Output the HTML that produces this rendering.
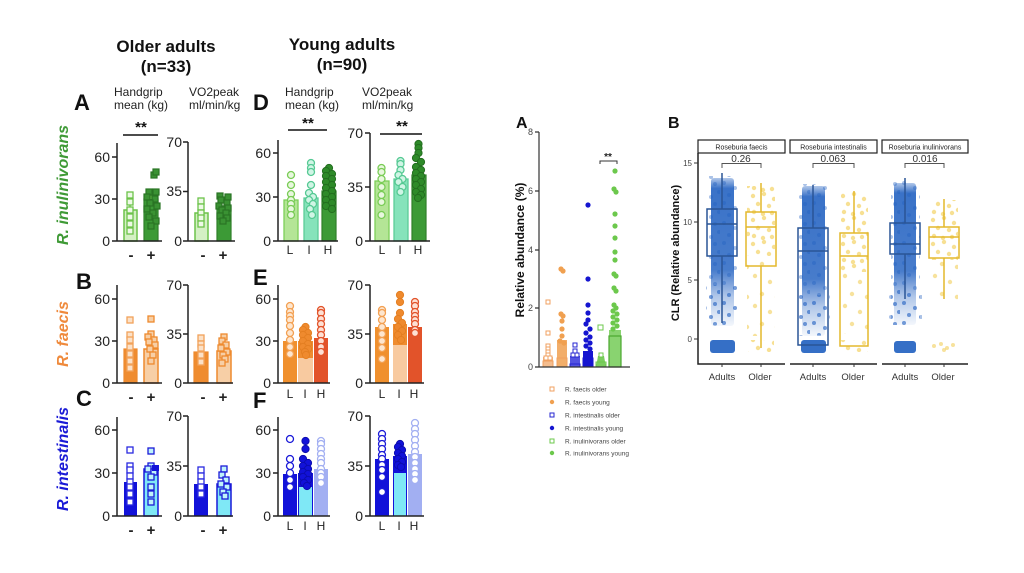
<!DOCTYPE html>
<html><head><meta charset="utf-8">
<style>
html,body{margin:0;padding:0;background:#fff;}
svg{display:block;}
text{font-family:"Liberation Sans",Arial,sans-serif;}
.tk{font-size:14px;fill:#222;text-anchor:end;}
.ax{stroke:#222;stroke-width:1.5;fill:none;}
.hd{font-size:12px;fill:#222;}
.big{font-size:22px;font-weight:bold;fill:#111;}
.xl{font-size:15px;font-weight:bold;fill:#222;text-anchor:middle;}
.xl2{font-size:12px;fill:#222;text-anchor:middle;}
.sqlg{fill:#eef9e7;stroke:#6cc24a;stroke-width:1.3;}
.sqdg{fill:#3a9233;stroke:#2a7424;stroke-width:1.2;}
.cl{fill:#e8f7de;stroke:#79cc55;stroke-width:1.3;}
.ci{fill:#d0f5e5;stroke:#55c993;stroke-width:1.3;}
.ch{fill:#2e8a29;stroke:#236e1f;stroke-width:1;}
.sqo1{fill:#fbe1c8;stroke:#f2a25a;stroke-width:1.3;}
.sqo2{fill:#f7cfa6;stroke:#ee8a2e;stroke-width:1.3;}
.co{fill:#fde6cf;stroke:#f3a052;stroke-width:1.3;}
.cof{fill:#ef8a2e;stroke:#e47f22;stroke-width:1;}
.cr{fill:#fde0d4;stroke:#e2532a;stroke-width:1.3;}
.sqb1{fill:#fff;stroke:#2a2ae0;stroke-width:1.3;}
.sqb2{fill:#bff3fa;stroke:#1a1ad8;stroke-width:1.3;}
.cb{fill:#fff;stroke:#1a1ad8;stroke-width:1.3;}
.cbf{fill:#1212d9;stroke:#0c0cb0;stroke-width:1;}
.cv{fill:#fff;stroke:#a2aff2;stroke-width:1.3;}
.mt{font-size:9px;fill:#444;text-anchor:end;}
.lg{font-size:6.5px;fill:#444;}
.rt{font-size:8px;fill:#444;text-anchor:end;}
.st{font-size:7px;fill:#222;text-anchor:middle;}
.pv{font-size:10px;fill:#333;text-anchor:middle;}
.bx{font-size:9.5px;fill:#333;text-anchor:middle;}
</style></head>
<body>
<svg width="1024" height="573" viewBox="0 0 1024 573" xmlns="http://www.w3.org/2000/svg">
<defs>
<linearGradient id="bc" x1="0" y1="0" x2="0" y2="1">
<stop offset="0" stop-color="#1f5fc0" stop-opacity="0.35"/>
<stop offset="0.07" stop-color="#1f5fc0" stop-opacity="0.88"/>
<stop offset="0.62" stop-color="#1f5fc0" stop-opacity="0.82"/>
<stop offset="0.8" stop-color="#1f5fc0" stop-opacity="0.35"/>
<stop offset="1" stop-color="#1f5fc0" stop-opacity="0.05"/>
</linearGradient>
<pattern id="yd" width="30" height="24" patternUnits="userSpaceOnUse">
<g fill="#f0c63a" fill-opacity="0.55">
<circle cx="3" cy="4" r="2.2"/><circle cx="14" cy="2" r="2.2"/><circle cx="24" cy="7" r="2.2"/><circle cx="8" cy="12" r="2.2"/><circle cx="19" cy="14" r="2.2"/><circle cx="28" cy="18" r="2.2"/><circle cx="4" cy="20" r="2.2"/><circle cx="13" cy="22" r="2.2"/><circle cx="22" cy="21" r="2.2"/></g>
</pattern>
<pattern id="ys" width="30" height="30" patternUnits="userSpaceOnUse">
<g fill="#f0c63a" fill-opacity="0.5">
<circle cx="5" cy="6" r="2.2"/><circle cx="20" cy="12" r="2.2"/><circle cx="12" cy="24" r="2.2"/><circle cx="27" cy="27" r="2.2"/></g>
</pattern>
<pattern id="bs" width="30" height="20" patternUnits="userSpaceOnUse">
<g fill="#2a66c4" fill-opacity="0.4">
<circle cx="4" cy="3" r="2"/><circle cx="15" cy="8" r="2"/><circle cx="25" cy="4" r="2"/><circle cx="9" cy="15" r="2"/><circle cx="21" cy="17" r="2"/><circle cx="29" cy="12" r="2"/></g>
</pattern>
</defs>

<!-- ================= LEFT FIGURE ================= -->
<text x="166" y="52" font-size="17" font-weight="bold" text-anchor="middle" fill="#111">Older adults</text>
<text x="166" y="72" font-size="17" font-weight="bold" text-anchor="middle" fill="#111">(n=33)</text>
<text x="342" y="50" font-size="17" font-weight="bold" text-anchor="middle" fill="#111">Young adults</text>
<text x="342" y="70" font-size="17" font-weight="bold" text-anchor="middle" fill="#111">(n=90)</text>

<text class="big" x="74" y="110">A</text>
<text class="big" x="253" y="110">D</text>
<text class="big" x="76" y="289">B</text>
<text class="big" x="253" y="285">E</text>
<text class="big" x="76" y="406">C</text>
<text class="big" x="253" y="408">F</text>

<text class="hd" x="114" y="96">Handgrip</text><text class="hd" x="114" y="109">mean (kg)</text>
<text class="hd" x="189" y="96">VO2peak</text><text class="hd" x="189" y="109">ml/min/kg</text>
<text class="hd" x="285" y="96">Handgrip</text><text class="hd" x="285" y="109">mean (kg)</text>
<text class="hd" x="362" y="96">VO2peak</text><text class="hd" x="362" y="109">ml/min/kg</text>

<text transform="translate(68,185) rotate(-90)" text-anchor="middle" font-size="16" font-weight="bold" font-style="italic" fill="#3f9a36">R. inulinivorans</text>
<text transform="translate(68,334) rotate(-90)" text-anchor="middle" font-size="16" font-weight="bold" font-style="italic" fill="#ef8a3c">R. faecis</text>
<text transform="translate(68,459) rotate(-90)" text-anchor="middle" font-size="16" font-weight="bold" font-style="italic" fill="#1a1ad6">R. intestinalis</text>

<!-- significance -->
<text x="141" y="132" font-size="15" font-weight="bold" text-anchor="middle" fill="#111">**</text>
<line x1="123" y1="135" x2="158" y2="135" stroke="#111" stroke-width="1.5"/>
<text x="308" y="128" font-size="15" font-weight="bold" text-anchor="middle" fill="#111">**</text>
<line x1="288" y1="130" x2="327" y2="130" stroke="#111" stroke-width="1.5"/>
<text x="402" y="131" font-size="15" font-weight="bold" text-anchor="middle" fill="#111">**</text>
<line x1="380" y1="134" x2="422" y2="134" stroke="#111" stroke-width="1.5"/>

<!-- ===== Row A HG ===== -->
<rect x="124" y="210" width="13" height="31" fill="#d4f0c4" stroke="#6cc24a" stroke-width="1.5"/>
<rect x="144" y="199" width="14" height="42" fill="#3c9a36" stroke="#2f7f2a" stroke-width="1.2"/>
<path d="M130 210V204M127 204H133M151 199V194M148 194H154" stroke="#6cc24a" stroke-width="1.3"/>
<g class="sqlg"><rect x="127" y="192" width="6" height="6"/><rect x="127" y="199" width="6" height="6"/><rect x="127" y="207" width="6" height="6"/><rect x="127" y="214" width="6" height="6"/><rect x="127" y="221" width="6" height="6"/><rect x="127" y="228" width="6" height="6"/></g>
<g class="sqdg"><rect x="151" y="172" width="6" height="6"/><rect x="153" y="169" width="6" height="6"/><rect x="146" y="189" width="6" height="6"/><rect x="153" y="189" width="6" height="6"/><rect x="144" y="194" width="6" height="6"/><rect x="152" y="196" width="6" height="6"/><rect x="147" y="200" width="6" height="6"/><rect x="154" y="203" width="6" height="6"/><rect x="144" y="206" width="6" height="6"/><rect x="150" y="210" width="6" height="6"/><rect x="146" y="214" width="6" height="6"/><rect x="153" y="218" width="6" height="6"/><rect x="148" y="223" width="6" height="6"/></g>
<path class="ax" d="M117 143V241H162M112 241H117M112 199H117M112 157H117"/>
<text class="tk" x="110" y="246">0</text><text class="tk" x="110" y="204">30</text><text class="tk" x="110" y="162">60</text>
<text class="xl" x="131" y="260">-</text><text class="xl" x="151" y="260">+</text>

<!-- ===== Row A VO2 ===== -->
<rect x="195" y="213" width="13" height="28" fill="#d4f0c4" stroke="#6cc24a" stroke-width="1.5"/>
<rect x="217" y="206" width="14" height="35" fill="#3c9a36" stroke="#2f7f2a" stroke-width="1.2"/>
<g class="sqlg"><rect x="198" y="198" width="6" height="6"/><rect x="198" y="204" width="6" height="6"/><rect x="198" y="210" width="6" height="6"/><rect x="198" y="215" width="6" height="6"/><rect x="198" y="221" width="6" height="6"/></g>
<g class="sqdg"><rect x="217" y="193" width="6" height="6"/><rect x="225" y="194" width="6" height="6"/><rect x="218" y="197" width="6" height="6"/><rect x="224" y="200" width="6" height="6"/><rect x="216" y="203" width="6" height="6"/><rect x="225" y="205" width="6" height="6"/><rect x="219" y="207" width="6" height="6"/><rect x="223" y="210" width="6" height="6"/><rect x="217" y="213" width="6" height="6"/><rect x="224" y="215" width="6" height="6"/><rect x="220" y="218" width="6" height="6"/></g>
<path class="ax" d="M188 142V241H235M183 241H188M183 191.5H188M183 142H188"/>
<text class="tk" x="182" y="246">0</text><text class="tk" x="182" y="196">35</text><text class="tk" x="182" y="147">70</text>
<text class="xl" x="203" y="260">-</text><text class="xl" x="223" y="260">+</text>

<!-- ===== Row D HG ===== -->
<rect x="284" y="200" width="14" height="41" fill="#b4e596" stroke="#7ccf58" stroke-width="1.3"/>
<rect x="304" y="198" width="14" height="43" fill="#86e3bb" stroke="#5ccc98" stroke-width="1.3"/>
<rect x="322" y="191" width="14" height="50" fill="#3c9a36" stroke="#2f7f2a" stroke-width="1.2"/>
<g class="cl"><circle cx="291" cy="175" r="3.5"/><circle cx="291" cy="185" r="3.5"/><circle cx="291" cy="194" r="3.5"/><circle cx="291" cy="200" r="3.5"/><circle cx="291" cy="204" r="3.5"/><circle cx="291" cy="209" r="3.5"/><circle cx="291" cy="215" r="3.5"/></g>
<g class="ci"><circle cx="311" cy="163" r="3.5"/><circle cx="311" cy="168" r="3.5"/><circle cx="311" cy="172" r="3.5"/><circle cx="311" cy="185" r="3.5"/><circle cx="309" cy="193" r="3.5"/><circle cx="313" cy="197" r="3.5"/><circle cx="309" cy="200" r="3.5"/><circle cx="313" cy="204" r="3.5"/><circle cx="310" cy="209" r="3.5"/><circle cx="312" cy="215" r="3.5"/></g>
<g class="ch"><circle cx="329" cy="168" r="3.6"/><circle cx="326" cy="171" r="3.6"/><circle cx="332" cy="174" r="3.6"/><circle cx="326" cy="176" r="3.6"/><circle cx="332" cy="179" r="3.6"/><circle cx="326" cy="182" r="3.6"/><circle cx="332" cy="185" r="3.6"/><circle cx="326" cy="188" r="3.6"/><circle cx="332" cy="191" r="3.6"/><circle cx="326" cy="194" r="3.6"/><circle cx="332" cy="197" r="3.6"/><circle cx="326" cy="200" r="3.6"/><circle cx="332" cy="203" r="3.6"/><circle cx="326" cy="206" r="3.6"/><circle cx="332" cy="209" r="3.6"/></g>
<path class="ax" d="M278 140V241H338M273 241H278M273 197H278M273 153H278"/>
<text class="tk" x="271" y="246">0</text><text class="tk" x="271" y="202">30</text><text class="tk" x="271" y="158">60</text>
<text class="xl2" x="290" y="254">L</text><text class="xl2" x="309" y="254">I</text><text class="xl2" x="328" y="254">H</text>

<!-- ===== Row D VO2 ===== -->
<rect x="375" y="181" width="14" height="60" fill="#b4e596" stroke="#7ccf58" stroke-width="1.3"/>
<rect x="394" y="179" width="14" height="62" fill="#86e3bb" stroke="#5ccc98" stroke-width="1.3"/>
<rect x="412" y="175" width="14" height="66" fill="#3c9a36" stroke="#2f7f2a" stroke-width="1.2"/>
<g class="cl"><circle cx="381.5" cy="168" r="3.5"/><circle cx="381.5" cy="172" r="3.5"/><circle cx="381.5" cy="179" r="3.5"/><circle cx="381.5" cy="187" r="3.5"/><circle cx="381.5" cy="195" r="3.5"/><circle cx="381.5" cy="202" r="3.5"/><circle cx="381.5" cy="215" r="3.5"/></g>
<g class="ci"><circle cx="400.5" cy="161" r="3.5"/><circle cx="400.5" cy="164" r="3.5"/><circle cx="400.5" cy="170" r="3.5"/><circle cx="398.5" cy="175" r="3.5"/><circle cx="402.5" cy="179" r="3.5"/><circle cx="398.5" cy="182" r="3.5"/><circle cx="402.5" cy="187" r="3.5"/><circle cx="400.5" cy="192" r="3.5"/></g>
<g class="ch"><circle cx="418.5" cy="144" r="3.6"/><circle cx="418.5" cy="148" r="3.6"/><circle cx="418.5" cy="153" r="3.6"/><circle cx="416" cy="158" r="3.6"/><circle cx="421" cy="162" r="3.6"/><circle cx="416" cy="167" r="3.6"/><circle cx="421" cy="170" r="3.6"/><circle cx="416" cy="173" r="3.6"/><circle cx="421" cy="176" r="3.6"/><circle cx="416" cy="179" r="3.6"/><circle cx="421" cy="182" r="3.6"/><circle cx="416" cy="185" r="3.6"/><circle cx="421" cy="189" r="3.6"/><circle cx="416" cy="192" r="3.6"/><circle cx="421" cy="195" r="3.6"/><circle cx="418" cy="198" r="3.6"/></g>
<path class="ax" d="M370 133V241H430M365 241H370M365 187H370M365 133H370"/>
<text class="tk" x="363" y="246">0</text><text class="tk" x="363" y="192">35</text><text class="tk" x="363" y="138">70</text>
<text class="xl2" x="382" y="254">L</text><text class="xl2" x="400" y="254">I</text><text class="xl2" x="418" y="254">H</text>

<!-- ===== Row B HG ===== -->
<rect x="124" y="349" width="13" height="34" fill="#ef8c30" stroke="#ee8a2e" stroke-width="1.2"/>
<rect x="144" y="349" width="14" height="34" fill="#f7cfa6" stroke="#ee8a2e" stroke-width="1.5"/>
<g class="sqo1"><rect x="127" y="317" width="6" height="6"/><rect x="127" y="332" width="6" height="6"/><rect x="127" y="337" width="6" height="6"/><rect x="127" y="344" width="6" height="6"/><rect x="127" y="351" width="6" height="6"/><rect x="127" y="358" width="6" height="6"/><rect x="127" y="365" width="6" height="6"/></g>
<g class="sqo2"><rect x="148" y="316" width="6" height="6"/><rect x="148" y="331" width="6" height="6"/><rect x="145" y="334" width="6" height="6"/><rect x="151" y="337" width="6" height="6"/><rect x="146" y="339" width="6" height="6"/><rect x="152" y="342" width="6" height="6"/><rect x="147" y="346" width="6" height="6"/><rect x="150" y="352" width="6" height="6"/><rect x="148" y="358" width="6" height="6"/></g>
<path class="ax" d="M117 285V383H162M112 383H117M112 341H117M112 299H117"/>
<text class="tk" x="110" y="388">0</text><text class="tk" x="110" y="346">30</text><text class="tk" x="110" y="304">60</text>
<text class="xl" x="131" y="402">-</text><text class="xl" x="151" y="402">+</text>

<!-- ===== Row B VO2 ===== -->
<rect x="194" y="352" width="14" height="31" fill="#ef8c30" stroke="#ee8a2e" stroke-width="1.2"/>
<rect x="217" y="351" width="14" height="32" fill="#f7cfa6" stroke="#ee8a2e" stroke-width="1.5"/>
<g class="sqo1"><rect x="198" y="335" width="6" height="6"/><rect x="198" y="341" width="6" height="6"/><rect x="198" y="345" width="6" height="6"/><rect x="198" y="352" width="6" height="6"/><rect x="198" y="359" width="6" height="6"/></g>
<g class="sqo2"><rect x="221" y="334" width="6" height="6"/><rect x="219" y="338" width="6" height="6"/><rect x="223" y="342" width="6" height="6"/><rect x="218" y="345" width="6" height="6"/><rect x="224" y="349" width="6" height="6"/><rect x="220" y="352" width="6" height="6"/><rect x="222" y="356" width="6" height="6"/><rect x="219" y="360" width="6" height="6"/></g>
<path class="ax" d="M188 285V383H233M183 383H188M183 334H188M183 285H188"/>
<text class="tk" x="182" y="388">0</text><text class="tk" x="182" y="339">35</text><text class="tk" x="182" y="290">70</text>
<text class="xl" x="203" y="402">-</text><text class="xl" x="223" y="402">+</text>

<!-- ===== Row E HG ===== -->
<rect x="283" y="341" width="14" height="42" fill="#f0902e"/>
<rect x="298" y="341" width="15" height="42" fill="#ef8c30"/>
<rect x="298" y="358" width="15" height="25" fill="#f8caa0"/>
<rect x="314" y="338" width="14" height="45" fill="#e2532a"/>
<g class="co"><circle cx="290" cy="306" r="3.5"/><circle cx="290" cy="312" r="3.5"/><circle cx="290" cy="316" r="3.5"/><circle cx="290" cy="320" r="3.5"/><circle cx="290" cy="326" r="3.5"/><circle cx="290" cy="333" r="3.5"/><circle cx="290" cy="340" r="3.5"/><circle cx="290" cy="347" r="3.5"/><circle cx="290" cy="354" r="3.5"/></g>
<g class="cof"><circle cx="305.5" cy="327" r="3.6"/><circle cx="303" cy="330" r="3.6"/><circle cx="308" cy="333" r="3.6"/><circle cx="303" cy="335" r="3.6"/><circle cx="308" cy="338" r="3.6"/><circle cx="303" cy="341" r="3.6"/><circle cx="308" cy="344" r="3.6"/><circle cx="303" cy="347" r="3.6"/><circle cx="308" cy="349" r="3.6"/><circle cx="305" cy="352" r="3.6"/><circle cx="306" cy="355" r="3.6"/></g>
<g class="cr"><circle cx="321" cy="310" r="3.5"/><circle cx="321" cy="313" r="3.5"/><circle cx="321" cy="319" r="3.5"/><circle cx="321" cy="324" r="3.5"/><circle cx="321" cy="330" r="3.5"/><circle cx="321" cy="335" r="3.5"/><circle cx="321" cy="341" r="3.5"/><circle cx="321" cy="347" r="3.5"/><circle cx="321" cy="352" r="3.5"/></g>
<path class="ax" d="M278 285V383H330M273 383H278M273 341H278M273 299H278"/>
<text class="tk" x="271" y="388">0</text><text class="tk" x="271" y="346">30</text><text class="tk" x="271" y="304">60</text>
<text class="xl2" x="290" y="398">L</text><text class="xl2" x="305" y="398">I</text><text class="xl2" x="321" y="398">H</text>

<!-- ===== Row E VO2 ===== -->
<rect x="375" y="327" width="14" height="56" fill="#f0902e"/>
<rect x="393" y="324" width="14" height="59" fill="#ef8c30"/>
<rect x="393" y="345" width="14" height="38" fill="#f8caa0"/>
<rect x="408" y="327" width="14" height="56" fill="#e2532a"/>
<g class="co"><circle cx="382" cy="310" r="3.5"/><circle cx="382" cy="313" r="3.5"/><circle cx="382" cy="320" r="3.5"/><circle cx="382" cy="327" r="3.5"/><circle cx="382" cy="334" r="3.5"/><circle cx="382" cy="341" r="3.5"/><circle cx="382" cy="348" r="3.5"/><circle cx="382" cy="359" r="3.5"/></g>
<g class="cof"><circle cx="400" cy="295" r="3.6"/><circle cx="400" cy="302" r="3.6"/><circle cx="400" cy="313" r="3.6"/><circle cx="398" cy="319" r="3.6"/><circle cx="402" cy="323" r="3.6"/><circle cx="398" cy="327" r="3.6"/><circle cx="402" cy="331" r="3.6"/><circle cx="398" cy="335" r="3.6"/><circle cx="401" cy="340" r="3.6"/></g>
<g class="cr"><circle cx="415" cy="302" r="3.5"/><circle cx="415" cy="306" r="3.5"/><circle cx="415" cy="312" r="3.5"/><circle cx="415" cy="316" r="3.5"/><circle cx="415" cy="320" r="3.5"/><circle cx="415" cy="324" r="3.5"/><circle cx="415" cy="330" r="3.5"/><circle cx="415" cy="333" r="3.5"/></g>
<path class="ax" d="M370 285V383H424M365 383H370M365 334H370M365 285H370"/>
<text class="tk" x="363" y="388">0</text><text class="tk" x="363" y="339">35</text><text class="tk" x="363" y="290">70</text>
<text class="xl2" x="382" y="398">L</text><text class="xl2" x="399" y="398">I</text><text class="xl2" x="414" y="398">H</text>

<!-- ===== Row C HG ===== -->
<rect x="124" y="482" width="13" height="34" fill="#1212d9"/>
<rect x="144" y="469" width="14" height="47" fill="#7fe8f6" stroke="#1a1ad8" stroke-width="1.5"/>
<g class="sqb1"><rect x="127" y="447" width="6" height="6"/><rect x="127" y="463" width="6" height="6"/><rect x="127" y="467" width="6" height="6"/><rect x="127" y="473" width="6" height="6"/><rect x="127" y="479" width="6" height="6"/><rect x="127" y="484" width="6" height="6"/><rect x="127" y="491" width="6" height="6"/><rect x="127" y="499" width="6" height="6"/></g>
<g class="sqb2"><rect x="148" y="448" width="6" height="6"/><rect x="148" y="463" width="6" height="6"/><rect x="145" y="466" width="6" height="6"/><rect x="151" y="469" width="6" height="6"/><rect x="148" y="474" width="6" height="6"/><rect x="148" y="484" width="6" height="6"/><rect x="148" y="491" width="6" height="6"/><rect x="148" y="499" width="6" height="6"/></g>
<rect x="152" y="465" width="7" height="6" fill="#1212d9"/>
<path class="ax" d="M117 417V516H162M112 516H117M112 473H117M112 430H117"/>
<text class="tk" x="110" y="521">0</text><text class="tk" x="110" y="478">30</text><text class="tk" x="110" y="435">60</text>
<text class="xl" x="131" y="535">-</text><text class="xl" x="151" y="535">+</text>

<!-- ===== Row C VO2 ===== -->
<rect x="194" y="484" width="14" height="32" fill="#1212d9"/>
<rect x="217" y="484" width="14" height="32" fill="#7fe8f6" stroke="#1a1ad8" stroke-width="1.5"/>
<g class="sqb1"><rect x="198" y="467" width="6" height="6"/><rect x="198" y="473" width="6" height="6"/><rect x="198" y="479" width="6" height="6"/><rect x="198" y="484" width="6" height="6"/><rect x="198" y="491" width="6" height="6"/></g>
<g class="sqb2"><rect x="221" y="466" width="6" height="6"/><rect x="219" y="472" width="6" height="6"/><rect x="223" y="477" width="6" height="6"/><rect x="218" y="481" width="6" height="6"/><rect x="224" y="484" width="6" height="6"/><rect x="220" y="489" width="6" height="6"/><rect x="222" y="493" width="6" height="6"/></g>
<path class="ax" d="M188 416V516H233M183 516H188M183 466H188M183 416H188"/>
<text class="tk" x="182" y="521">0</text><text class="tk" x="182" y="471">35</text><text class="tk" x="182" y="421">70</text>
<text class="xl" x="203" y="535">-</text><text class="xl" x="223" y="535">+</text>

<!-- ===== Row F HG ===== -->
<rect x="283" y="474" width="14" height="42" fill="#1212d9"/>
<rect x="298" y="473" width="15" height="43" fill="#1212d9"/>
<rect x="299" y="487" width="13" height="29" fill="#7fe8f6"/>
<rect x="314" y="469" width="14" height="47" fill="#a2aff2"/>
<g class="cb"><circle cx="290" cy="439" r="3.5"/><circle cx="290" cy="459" r="3.5"/><circle cx="290" cy="466" r="3.5"/><circle cx="290" cy="473" r="3.5"/><circle cx="290" cy="480" r="3.5"/><circle cx="290" cy="487" r="3.5"/></g>
<g class="cbf"><circle cx="305.5" cy="441" r="3.6"/><circle cx="305.5" cy="449" r="3.6"/><circle cx="303" cy="459" r="3.6"/><circle cx="308" cy="463" r="3.6"/><circle cx="303" cy="466" r="3.6"/><circle cx="308" cy="469" r="3.6"/><circle cx="303" cy="472" r="3.6"/><circle cx="308" cy="474" r="3.6"/><circle cx="303" cy="477" r="3.6"/><circle cx="308" cy="480" r="3.6"/><circle cx="304" cy="483" r="3.6"/><circle cx="307" cy="486" r="3.6"/></g>
<g class="cv"><circle cx="321" cy="441" r="3.5"/><circle cx="321" cy="444" r="3.5"/><circle cx="321" cy="449" r="3.5"/><circle cx="321" cy="454" r="3.5"/><circle cx="321" cy="459" r="3.5"/><circle cx="321" cy="463" r="3.5"/><circle cx="321" cy="469" r="3.5"/><circle cx="321" cy="473" r="3.5"/><circle cx="321" cy="477" r="3.5"/><circle cx="321" cy="483" r="3.5"/></g>
<path class="ax" d="M278 417V516H330M273 516H278M273 473H278M273 430H278"/>
<text class="tk" x="271" y="521">0</text><text class="tk" x="271" y="478">30</text><text class="tk" x="271" y="435">60</text>
<text class="xl2" x="290" y="530">L</text><text class="xl2" x="305" y="530">I</text><text class="xl2" x="321" y="530">H</text>

<!-- ===== Row F VO2 ===== -->
<rect x="375" y="459" width="14" height="57" fill="#1212d9"/>
<rect x="393" y="456" width="14" height="60" fill="#1212d9"/>
<rect x="394" y="473" width="12" height="43" fill="#7fe8f6"/>
<rect x="408" y="454" width="14" height="62" fill="#a2aff2"/>
<g class="cb"><circle cx="382" cy="434" r="3.5"/><circle cx="382" cy="439" r="3.5"/><circle cx="382" cy="444" r="3.5"/><circle cx="382" cy="449" r="3.5"/><circle cx="382" cy="455" r="3.5"/><circle cx="382" cy="459" r="3.5"/><circle cx="382" cy="465" r="3.5"/><circle cx="382" cy="470" r="3.5"/><circle cx="382" cy="477" r="3.5"/><circle cx="382" cy="492" r="3.5"/></g>
<g class="cbf"><circle cx="400" cy="444" r="3.6"/><circle cx="398" cy="447" r="3.6"/><circle cx="402" cy="450" r="3.6"/><circle cx="398" cy="453" r="3.6"/><circle cx="402" cy="456" r="3.6"/><circle cx="398" cy="459" r="3.6"/><circle cx="402" cy="462" r="3.6"/><circle cx="398" cy="465" r="3.6"/><circle cx="401" cy="467" r="3.6"/></g>
<g class="cv"><circle cx="415" cy="423" r="3.5"/><circle cx="415" cy="429" r="3.5"/><circle cx="415" cy="434" r="3.5"/><circle cx="415" cy="440" r="3.5"/><circle cx="415" cy="446" r="3.5"/><circle cx="415" cy="452" r="3.5"/><circle cx="415" cy="457" r="3.5"/><circle cx="415" cy="463" r="3.5"/><circle cx="415" cy="469" r="3.5"/><circle cx="415" cy="474" r="3.5"/><circle cx="415" cy="480" r="3.5"/></g>
<path class="ax" d="M370 416V516H424M365 516H370M365 466H370M365 416H370"/>
<text class="tk" x="363" y="521">0</text><text class="tk" x="363" y="471">35</text><text class="tk" x="363" y="421">70</text>
<text class="xl2" x="382" y="530">L</text><text class="xl2" x="399" y="530">I</text><text class="xl2" x="414" y="530">H</text>

<!-- ================= MIDDLE PANEL A ================= -->
<text x="516" y="128" font-size="16" font-weight="bold" fill="#111">A</text>
<text transform="translate(524,250) rotate(-90)" text-anchor="middle" font-size="12" font-weight="bold" fill="#111">Relative abundance (%)</text>
<!-- dense bases -->
<rect x="543" y="357" width="10" height="10" fill="#f3b27a" fill-opacity="0.85"/>
<rect x="557" y="340" width="10" height="27" fill="#f0a050" fill-opacity="0.85"/>
<rect x="570" y="356" width="10" height="11" fill="#3535dc" fill-opacity="0.85"/>
<rect x="583" y="351" width="10" height="16" fill="#1515d0"/>
<path d="M596 367L598 356H604L606 367Z" fill="#6cc84c" fill-opacity="0.9"/>
<rect x="609" y="330" width="12" height="37" fill="#6cc84c" fill-opacity="0.8"/>
<!-- bars -->
<rect x="543" y="361" width="10" height="6" fill="none" stroke="#f0a060" stroke-width="1"/>
<rect x="557" y="358" width="10" height="9" fill="none" stroke="#f0a060" stroke-width="1"/>
<rect x="570" y="364" width="10" height="3" fill="none" stroke="#2525d0" stroke-width="1"/>
<rect x="583" y="358" width="10" height="9" fill="none" stroke="#1515d0" stroke-width="1"/>
<rect x="596" y="362" width="10" height="5" fill="none" stroke="#6cc84c" stroke-width="1"/>
<rect x="609" y="336" width="12" height="31" fill="none" stroke="#4aa82e" stroke-width="1.2"/>
<!-- faecis older squares -->
<g fill="#fff" stroke="#f0a060" stroke-width="1"><rect x="546" y="300" width="4" height="4"/><rect x="546" y="331" width="4" height="4"/><rect x="546" y="344" width="4" height="4"/><rect x="546" y="347" width="4" height="4"/><rect x="546" y="350" width="4" height="4"/><rect x="546" y="353" width="4" height="4"/><rect x="544" y="356" width="4" height="4"/><rect x="548" y="356" width="4" height="4"/></g>
<!-- faecis young -->
<g fill="#f0a050"><circle cx="561" cy="269" r="2.6"/><circle cx="563" cy="271" r="2.6"/><circle cx="561" cy="314" r="2.6"/><circle cx="563" cy="316" r="2.6"/><circle cx="562" cy="321" r="2.6"/><circle cx="562" cy="329" r="2.6"/><circle cx="562" cy="336" r="2.6"/><circle cx="560" cy="341" r="2.6"/><circle cx="564" cy="343" r="2.6"/></g>
<!-- intestinalis older -->
<g fill="#fff" stroke="#2525d0" stroke-width="1"><rect x="573" y="343" width="4" height="4"/><rect x="573" y="349" width="4" height="4"/><rect x="571" y="353" width="4" height="4"/><rect x="575" y="353" width="4" height="4"/></g>
<!-- intestinalis young -->
<g fill="#1515d0"><circle cx="588" cy="205" r="2.6"/><circle cx="588" cy="279" r="2.6"/><circle cx="588" cy="305" r="2.6"/><circle cx="588" cy="313" r="2.6"/><circle cx="588" cy="320" r="2.6"/><circle cx="586" cy="324" r="2.6"/><circle cx="590" cy="329" r="2.6"/><circle cx="586" cy="333" r="2.6"/><circle cx="590" cy="337" r="2.6"/><circle cx="586" cy="340" r="2.6"/><circle cx="590" cy="343" r="2.6"/><circle cx="586" cy="346" r="2.6"/><circle cx="590" cy="349" r="2.6"/></g>
<!-- inulinivorans older -->
<g fill="#fff" stroke="#6cc84c" stroke-width="1"><rect x="598" y="325" width="5" height="5"/><rect x="599" y="353" width="4" height="4"/></g>
<!-- inulinivorans young -->
<g fill="#6cc84c"><circle cx="615" cy="171" r="2.6"/><circle cx="614" cy="189" r="2.6"/><circle cx="616" cy="192" r="2.6"/><circle cx="615" cy="214" r="2.6"/><circle cx="615" cy="226" r="2.6"/><circle cx="615" cy="238" r="2.6"/><circle cx="615" cy="252" r="2.6"/><circle cx="615" cy="260" r="2.6"/><circle cx="614" cy="274" r="2.6"/><circle cx="616" cy="276" r="2.6"/><circle cx="614" cy="288" r="2.6"/><circle cx="616" cy="291" r="2.6"/><circle cx="614" cy="305" r="2.6"/><circle cx="616" cy="308" r="2.6"/><circle cx="613" cy="311" r="2.6"/><circle cx="617" cy="314" r="2.6"/><circle cx="613" cy="317" r="2.6"/><circle cx="617" cy="320" r="2.6"/><circle cx="613" cy="323" r="2.6"/><circle cx="617" cy="326" r="2.6"/><circle cx="613" cy="329" r="2.6"/></g>
<text x="608" y="160" font-size="10" font-weight="bold" text-anchor="middle" fill="#222">**</text>
<path d="M600 164V161H617V164" stroke="#333" stroke-width="1" fill="none"/>
<path d="M539 132V367H630M535 132H539M535 191H539M535 250H539M535 308H539M535 367H539" stroke="#333" stroke-width="1.2" fill="none"/>
<text class="mt" x="533" y="135">8</text><text class="mt" x="533" y="194">6</text><text class="mt" x="533" y="253">4</text><text class="mt" x="533" y="311">2</text><text class="mt" x="533" y="370">0</text>
<!-- legend -->
<rect x="550" y="387" width="4" height="4" fill="#fff" stroke="#f0a060" stroke-width="1"/>
<circle cx="552" cy="402" r="2.2" fill="#f0a050"/>
<rect x="550" y="413" width="4" height="4" fill="#fff" stroke="#2525d0" stroke-width="1"/>
<circle cx="552" cy="428" r="2.2" fill="#1515d0"/>
<rect x="550" y="439" width="4" height="4" fill="#fff" stroke="#6cc84c" stroke-width="1"/>
<circle cx="552" cy="453" r="2.2" fill="#6cc84c"/>
<text class="lg" x="565" y="391.5">R. faecis older</text>
<text class="lg" x="565" y="404.5">R. faecis young</text>
<text class="lg" x="565" y="417.5">R. intestinalis older</text>
<text class="lg" x="565" y="430.5">R. intestinalis young</text>
<text class="lg" x="565" y="443.5">R. inulinivorans older</text>
<text class="lg" x="565" y="455.5">R. inulinivorans young</text>

<!-- ================= RIGHT PANEL B ================= -->
<text x="668" y="128" font-size="16" font-weight="bold" fill="#111">B</text>
<text transform="translate(679,253) rotate(-90)" text-anchor="middle" font-size="11" font-weight="bold" fill="#111">CLR (Relative abundance)</text>
<!-- strips -->
<rect x="698" y="140" width="87" height="13" fill="#fff" stroke="#222" stroke-width="1.2"/>
<rect x="790" y="140" width="87" height="13" fill="#fff" stroke="#222" stroke-width="1.2"/>
<rect x="882" y="140" width="86" height="13" fill="#fff" stroke="#222" stroke-width="1.2"/>
<text class="st" x="741.5" y="149.5">Roseburia faecis</text>
<text class="st" x="833.5" y="149.5">Roseburia intestinalis</text>
<text class="st" x="925" y="149.5">Roseburia inulinivorans</text>

<!-- Panel 1 clouds -->
<rect x="708" y="176" width="29" height="150" fill="url(#bs)"/>
<rect x="711" y="178" width="23" height="148" rx="3" fill="url(#bc)"/>
<rect x="706" y="285" width="33" height="40" fill="url(#bs)"/>
<rect x="710" y="340" width="25" height="13" rx="3" fill="#1f5fc0" fill-opacity="0.9"/>
<rect x="747" y="186" width="28" height="70" fill="url(#yd)"/>
<rect x="747" y="256" width="28" height="80" fill="url(#ys)"/>
<rect x="748" y="340" width="26" height="12" fill="url(#yd)"/>
<!-- Panel 2 clouds -->
<rect x="799" y="184" width="29" height="152" fill="url(#bs)"/>
<rect x="802" y="186" width="23" height="150" rx="3" fill="url(#bc)"/>
<rect x="797" y="295" width="33" height="40" fill="url(#bs)"/>
<rect x="801" y="340" width="25" height="13" rx="3" fill="#1f5fc0" fill-opacity="0.9"/>
<rect x="841" y="192" width="27" height="80" fill="url(#yd)"/>
<rect x="841" y="272" width="27" height="62" fill="url(#ys)"/>
<rect x="841" y="340" width="27" height="12" fill="url(#yd)"/>
<!-- Panel 3 clouds -->
<rect x="891" y="180" width="29" height="145" fill="url(#bs)"/>
<rect x="894" y="183" width="22" height="142" rx="3" fill="url(#bc)"/>
<rect x="889" y="290" width="33" height="35" fill="url(#bs)"/>
<rect x="894" y="341" width="22" height="12" rx="3" fill="#1f5fc0" fill-opacity="0.9"/>
<rect x="930" y="200" width="28" height="60" fill="url(#yd)"/>
<rect x="930" y="260" width="28" height="40" fill="url(#ys)"/>
<g fill="#f0c63a" fill-opacity="0.5"><circle cx="934" cy="346" r="2"/><circle cx="941" cy="344" r="2"/><circle cx="947" cy="348" r="2"/><circle cx="953" cy="345" r="2"/><circle cx="944" cy="350" r="2"/></g>

<!-- boxes -->
<g fill="none" stroke="#2a5596" stroke-width="1.5">
<path d="M722 173V209M722 256V323"/><rect x="707" y="209" width="30" height="47"/><path d="M707 224H737"/>
<path d="M813 185V228"/><rect x="798" y="228" width="30" height="117"/><path d="M798 251H828"/>
<path d="M905 178V223M905 254V299"/><rect x="890" y="223" width="30" height="31"/><path d="M890 244H920"/>
</g>
<g fill="none" stroke="#e4b82c" stroke-width="1.5">
<path d="M761 183V212M761 266V348"/><rect x="746" y="212" width="30" height="54"/><path d="M746 227H776"/>
<path d="M854 191V233"/><rect x="840" y="233" width="28" height="113"/><path d="M840 256H868"/>
<path d="M944 199V227M944 258V299"/><rect x="929" y="227" width="30" height="31"/><path d="M929 237H959"/>
</g>

<!-- p-values -->
<text class="pv" x="741" y="162">0.26</text>
<path d="M722 168V163.5H761V168" stroke="#555" stroke-width="1" fill="none"/>
<text class="pv" x="833" y="162">0.063</text>
<path d="M813 168V163.5H854V168" stroke="#555" stroke-width="1" fill="none"/>
<text class="pv" x="925" y="162">0.016</text>
<path d="M905 168V163.5H944V168" stroke="#555" stroke-width="1" fill="none"/>

<!-- axes -->
<path d="M698 153V364H785M790 364H877M882 364H968" stroke="#222" stroke-width="1.5" fill="none"/>
<path d="M694 163H698M694 222H698M694 280H698M694 339H698M722 364V367M761 364V367M813 364V367M854 364V367M905 364V367M944 364V367" stroke="#333" stroke-width="1" fill="none"/>
<text class="rt" x="692" y="166">15</text><text class="rt" x="692" y="225">10</text><text class="rt" x="692" y="283">5</text><text class="rt" x="692" y="342">0</text>
<text class="bx" x="722" y="380">Adults</text><text class="bx" x="760" y="380">Older</text>
<text class="bx" x="813" y="380">Adults</text><text class="bx" x="853" y="380">Older</text>
<text class="bx" x="905" y="380">Adults</text><text class="bx" x="943" y="380">Older</text>
</svg>
</body></html>
